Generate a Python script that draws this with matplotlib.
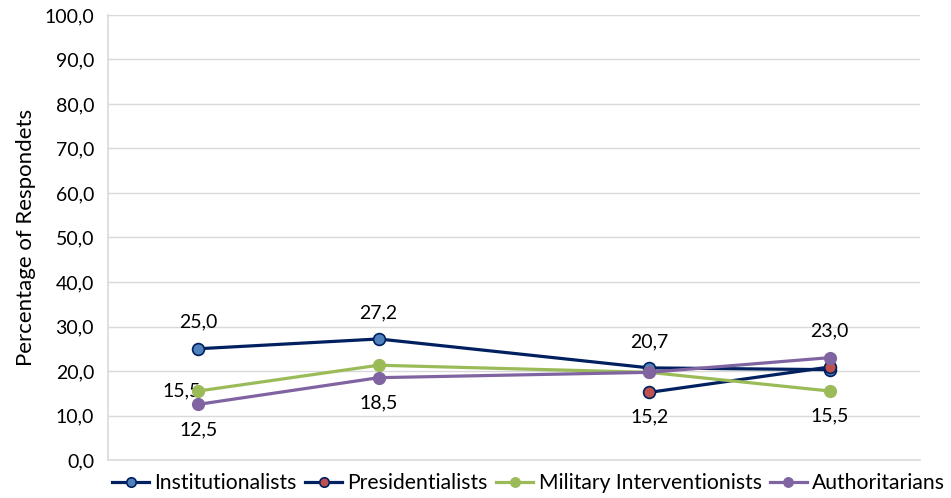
import matplotlib.pyplot as plt
import numpy as np

plt.rcParams['font.family'] = ['Lato', 'DejaVu Sans']

# survey waves (relative spacing), no tick labels on x
waves = [1, 3, 6, 8]
institutionalists = [25.0, 27.2, 20.7, 20.3]
presidentialists = [np.nan, np.nan, 15.2, 20.9]
military = [15.5, 21.3, 19.7, 15.5]
authoritarians = [12.5, 18.5, 19.7, 23.0]

navy = '#002060'
fig = plt.figure(figsize=(9.51, 4.98), dpi=100)
ax = fig.add_axes([108 / 951, 38 / 498, 812 / 951, 445 / 498])

ax.plot(waves, institutionalists, color=navy, lw=2.3, marker='o', ms=8.5,
        mfc='#4F81BD', mec=navy, mew=1.2, label='Institutionalists', zorder=3)
ax.plot(waves, presidentialists, color=navy, lw=2.3, marker='o', ms=8.5,
        mfc='#C0504D', mec=navy, mew=1.2, label='Presidentialists', zorder=4)
ax.plot(waves, military, color='#9BBB59', lw=2.3, marker='o', ms=8.5,
        mfc='#9BBB59', mec='#9BBB59', label='Military Interventionists', zorder=5)
ax.plot(waves, authoritarians, color='#8064A2', lw=2.3, marker='o', ms=8.5,
        mfc='#8064A2', mec='#8064A2', label='Authoritarians', zorder=6)

def lab(x, y, dx, dy, ha='center'):
    ax.annotate(f'{y:.1f}'.replace('.', ','), (x, y), xytext=(dx, dy),
                textcoords='offset points', ha=ha, va='center', fontsize=14)

lab(waves[0], institutionalists[0], 0, 19)
lab(waves[1], institutionalists[1], 0, 19)
lab(waves[2], institutionalists[2], 0, 19)
lab(waves[2], presidentialists[2], 0, -18)
lab(waves[0], military[0], 2, 0, ha='right')
lab(waves[3], military[3], 0, -18)
lab(waves[0], authoritarians[0], 0, -18)
lab(waves[1], authoritarians[1], 0, -18)
lab(waves[3], authoritarians[3], 0, 19)

ax.set_xlim(0, 9)
ax.set_ylim(0, 100)
ax.set_yticks(np.arange(0, 101, 10))
ax.set_yticklabels([f'{v:.1f}'.replace('.', ',') for v in range(0, 101, 10)], fontsize=14)
ax.set_xticks([])
ax.tick_params(axis='y', length=0, pad=10)
ax.grid(axis='y', color='#D9D9D9', lw=1)
ax.set_axisbelow(True)
for s in ['top', 'right']:
    ax.spines[s].set_visible(False)
for s in ['left', 'bottom']:
    ax.spines[s].set_color('#D9D9D9')
    ax.spines[s].set_linewidth(1.2)
ax.set_ylabel('Percentage of Respondets', fontsize=16, labelpad=6)

fig.legend(loc='lower center', bbox_to_anchor=(0.556, -0.028), ncol=4, frameon=False,
           fontsize=15.2, handlelength=1.75, handletextpad=0.25, columnspacing=0.4,
           markerscale=0.8)

fig.savefig('out.png', dpi=100)
